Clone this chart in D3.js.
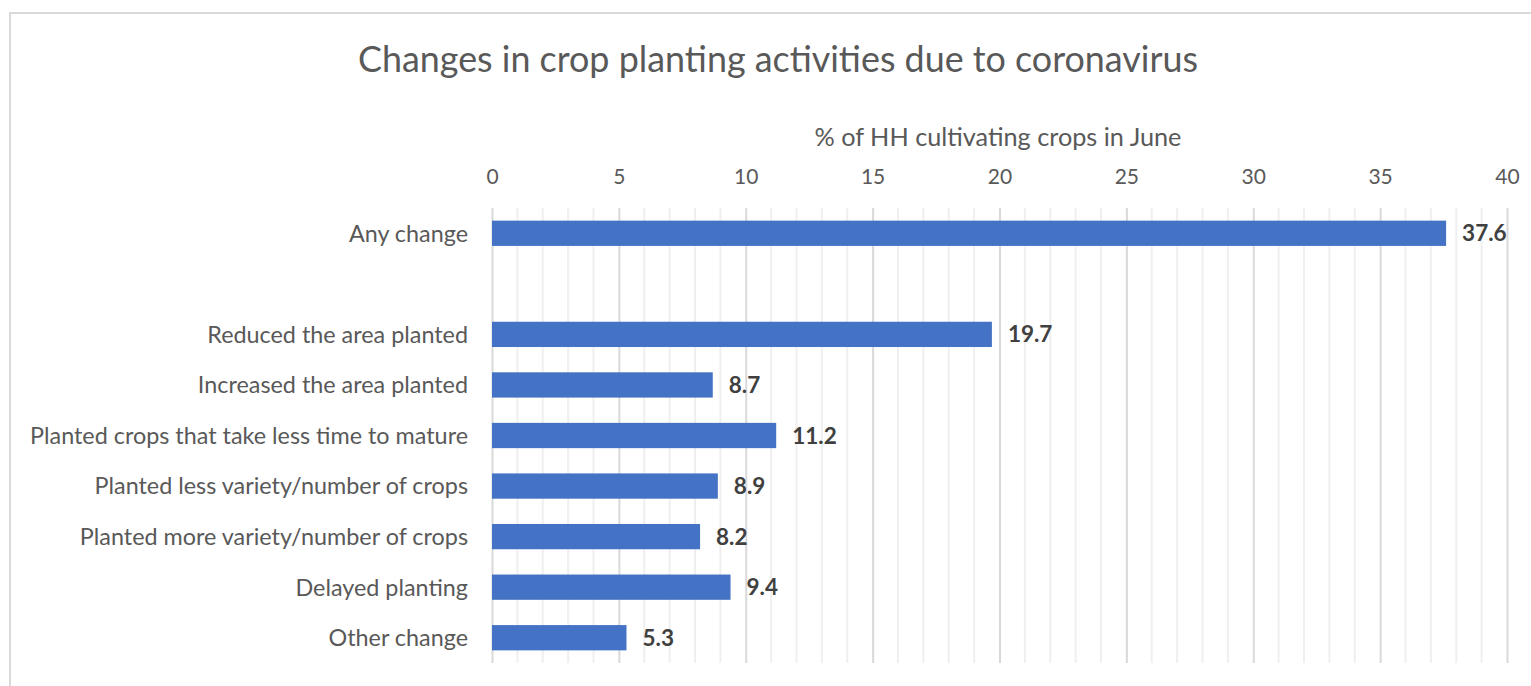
<!DOCTYPE html>
<html><head><meta charset="utf-8">
<script src="https://cdn.jsdelivr.net/npm/d3@7"></script>
<style>body{margin:0;background:#fff;}svg{display:block;font-family:Lato, "Open Sans", sans-serif;}</style>
</head><body>
<svg id="chart" width="1531" height="686"></svg>
<script>
const categories = ["Any change", "", "Reduced the area planted", "Increased the area planted",
  "Planted crops that take less time to mature", "Planted less variety/number of crops",
  "Planted more variety/number of crops", "Delayed planting", "Other change"];
const values = [37.6, null, 19.7, 8.7, 11.2, 8.9, 8.2, 9.4, 5.3];
const tickValues = [0, 5, 10, 15, 20, 25, 30, 35, 40];
const titleText = "Changes in crop planting activities due to coronavirus";
const axisTitle = "% of HH cultivating crops in June";

const svg = d3.select("#chart");
svg.append("rect").attr("x", 10).attr("y", 13).attr("width", 1540).attr("height", 700)
  .attr("fill", "#fff").attr("stroke", "#d9d9d9").attr("stroke-width", 2);

const x = d3.scaleLinear().domain([0, 40]).range([492, 1507]);
const y = d3.scaleBand().domain(categories).range([208, 663]).paddingInner(0.5).paddingOuter(0.25);

function fit(sel, w) {
  const node = sel.node();
  const fs = parseFloat(sel.attr("font-size"));
  const m = node.getComputedTextLength();
  sel.attr("font-size", (fs * w / m).toFixed(2));
}

// minor gridlines
const minor = d3.range(1, 40).filter(d => d % 5 !== 0);
svg.append("g").selectAll("line").data(minor).join("line")
  .attr("x1", d => x(d)).attr("x2", d => x(d)).attr("y1", 208).attr("y2", 663)
  .attr("stroke", "#efefef").attr("stroke-width", 2);
// major gridlines via axis
const axisG = svg.append("g").attr("transform", "translate(0,208)")
  .call(d3.axisTop(x).tickValues(tickValues).tickSize(-455).tickPadding(24).tickFormat(d3.format("d")));
axisG.select(".domain").remove();
axisG.selectAll(".tick line").attr("stroke", "#d9d9d9").attr("stroke-width", 2);
axisG.selectAll(".tick text").attr("fill", "#595959").attr("font-size", 21)
  .attr("font-family", "Lato, sans-serif");

// bars
const data = categories.map((c, i) => ({c, v: values[i]})).filter(d => d.v !== null);
svg.append("g").selectAll("rect").data(data).join("rect")
  .attr("x", x(0)).attr("y", d => y(d.c)).attr("width", d => x(d.v) - x(0))
  .attr("height", y.bandwidth()).attr("fill", "#4472c4");

// value labels
svg.append("g").selectAll("text").data(data).join("text")
  .attr("x", d => x(d.v) + 16).attr("y", d => y(d.c) + y.bandwidth() / 2)
  .attr("dy", "0.36em").attr("font-size", 22.5).attr("font-weight", "bold").attr("fill", "#404040")
  .text(d => d.v.toFixed(1));

// category labels
const labs = svg.append("g").selectAll("text").data(categories.filter(c => c)).join("text")
  .attr("x", 468).attr("y", d => y(d) + y.bandwidth() / 2).attr("dy", "0.36em")
  .attr("text-anchor", "end").attr("font-size", 21).attr("fill", "#595959").text(d => d);
// size to match reference width of longest label
const longest = labs.filter(d => d === "Planted crops that take less time to mature");
fit(longest, 438);
labs.attr("font-size", longest.attr("font-size"));

// titles
const t = svg.append("text").attr("x", 778).attr("y", 72).attr("text-anchor", "middle")
  .attr("font-size", 32).attr("fill", "#595959").text(titleText);
fit(t, 840);
const at = svg.append("text").attr("x", 998).attr("y", 146).attr("text-anchor", "middle")
  .attr("font-size", 21).attr("fill", "#595959").text(axisTitle);
fit(at, 367);
</script>
</body></html>
